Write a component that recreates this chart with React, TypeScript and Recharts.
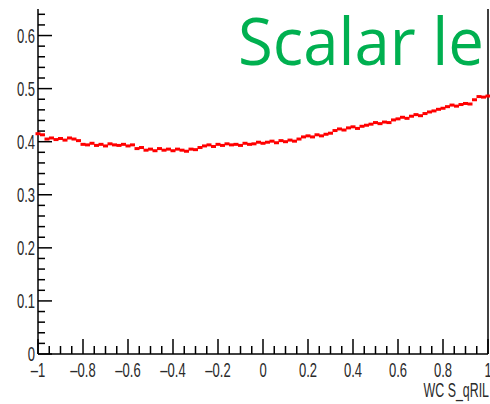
import React from "react";
import {
  ComposedChart,
  Scatter,
  XAxis,
  YAxis,
  ReferenceLine,
} from "recharts";

// scan points along WC S_qRIL, step 0.02 from -1 to 1
const scanX = [
  -1, -0.98, -0.96, -0.94, -0.92, -0.9, -0.88, -0.86, -0.84, -0.82,
  -0.8, -0.78, -0.76, -0.74, -0.72, -0.7, -0.68, -0.66, -0.64, -0.62,
  -0.6, -0.58, -0.56, -0.54, -0.52, -0.5, -0.48, -0.46, -0.44, -0.42,
  -0.4, -0.38, -0.36, -0.34, -0.32, -0.3, -0.28, -0.26, -0.24, -0.22,
  -0.2, -0.18, -0.16, -0.14, -0.12, -0.1, -0.08, -0.06, -0.04, -0.02,
  0, 0.02, 0.04, 0.06, 0.08, 0.1, 0.12, 0.14, 0.16, 0.18,
  0.2, 0.22, 0.24, 0.26, 0.28, 0.3, 0.32, 0.34, 0.36, 0.38,
  0.4, 0.42, 0.44, 0.46, 0.48, 0.5, 0.52, 0.54, 0.56, 0.58,
  0.6, 0.62, 0.64, 0.66, 0.68, 0.7, 0.72, 0.74, 0.76, 0.78,
  0.8, 0.82, 0.84, 0.86, 0.88, 0.9, 0.92, 0.94, 0.96, 0.98,
  1,
];

const scanY = [
  0.415, 0.413, 0.405, 0.407, 0.404, 0.406, 0.403, 0.407, 0.405, 0.402,
  0.395, 0.394, 0.397, 0.393, 0.395, 0.392, 0.396, 0.394, 0.393, 0.395,
  0.392, 0.394, 0.387, 0.389, 0.384, 0.386, 0.383, 0.387, 0.384, 0.386,
  0.383, 0.386, 0.384, 0.382, 0.386, 0.385, 0.389, 0.392, 0.394, 0.391,
  0.395, 0.393, 0.396, 0.394, 0.395, 0.393, 0.397, 0.395, 0.396, 0.399,
  0.397, 0.399, 0.401, 0.398, 0.402, 0.4, 0.403, 0.401, 0.405, 0.409,
  0.411, 0.409, 0.413, 0.411, 0.414, 0.416, 0.421, 0.424, 0.422, 0.426,
  0.428, 0.425, 0.429, 0.431, 0.433, 0.436, 0.434, 0.437, 0.436, 0.441,
  0.443, 0.446, 0.444, 0.448, 0.451, 0.449, 0.453, 0.456, 0.458, 0.461,
  0.463, 0.466, 0.469, 0.467, 0.47, 0.472, 0.471, 0.479, 0.485, 0.484,
  0.486,
];

const xMajor = [-1, -0.8, -0.6, -0.4, -0.2, 0, 0.2, 0.4, 0.6, 0.8, 1];
const xMajorLabels = ["-1", "-0.8", "-0.6", "-0.4", "-0.2", "0", "0.2", "0.4", "0.6", "0.8", "1"];
const yMajor = [0, 0.1, 0.2, 0.3, 0.4, 0.5, 0.6];
const yMajorLabels = ["0", "0.1", "0.2", "0.3", "0.4", "0.5", "0.6"];

const data = scanX.map((x, i) => ({ x, y: scanY[i] }));

const round = (v: number) => Math.round(v * 1000) / 1000;

// minor ticks: 4 between x majors, 5 between y majors
const xTicks: number[] = [];
for (let i = 0; i < xMajor.length - 1; i++) {
  for (let k = 0; k < 4; k++) xTicks.push(round(xMajor[i] + k * 0.05));
}
xTicks.push(1);
const yTicks: number[] = [];
for (let i = 0; i < yMajor.length; i++) {
  for (let k = 0; k < 5; k++) {
    const v = round(yMajor[i] + k * 0.02);
    if (v <= 0.65) yTicks.push(v);
  }
}

const FONT = "'Liberation Sans', Arial, sans-serif";
const SQUEEZE = 0.62;

const XTick = (props: any) => {
  const { x, y, payload } = props;
  const idx = xMajor.findIndex((m) => Math.abs(m - payload.value) < 1e-6);
  const major = idx >= 0;
  return (
    <g>
      <line x1={x} x2={x} y1={y} y2={y - (major ? 15 : 8)} stroke="#000" strokeWidth={1.5} />
      {major && (
        <text
          transform={`translate(${x},${y + 23}) scale(${SQUEEZE},1)`}
          textAnchor="middle"
          fontFamily={FONT}
          fontSize={21}
          fill="#2a2a2a"
        >
          {xMajorLabels[idx].replace("-", "\u2013")}
        </text>
      )}
    </g>
  );
};

const YTick = (props: any) => {
  const { x, y, payload } = props;
  const idx = yMajor.findIndex((m) => Math.abs(m - payload.value) < 1e-6);
  const major = idx >= 0;
  return (
    <g>
      <line x1={x} x2={x + (major ? 14 : 7)} y1={y} y2={y} stroke="#000" strokeWidth={1.5} />
      {major && (
        <text
          transform={`translate(${x - 3},${y + 7}) scale(${SQUEEZE},1)`}
          textAnchor="end"
          fontFamily={FONT}
          fontSize={21}
          fill="#2a2a2a"
        >
          {yMajorLabels[idx]}
        </text>
      )}
    </g>
  );
};

const Dash = (props: any) => {
  const { cx, cy } = props;
  return <rect x={cx - 2.5} y={cy - 1.5} width={5} height={3} fill="#ff0000" />;
};

export default function App() {
  return (
    <div style={{ position: "absolute", left: 0, top: 0, width: 490, height: 404, background: "#fff" }}>
      <ComposedChart
        width={490}
        height={404}
        data={data}
        margin={{ top: 9, right: 2, bottom: 0, left: 0 }}
      >
        <XAxis
          dataKey="x"
          type="number"
          domain={[-1, 1]}
          ticks={xTicks}
          interval={0}
          tickSize={0}
          tickMargin={0}
          tickLine={false}
          tick={<XTick />}
          height={50}
          axisLine={{ stroke: "#000", strokeWidth: 1.5 }}
        />
        <YAxis
          dataKey="y"
          type="number"
          domain={[0, 0.65]}
          ticks={yTicks}
          interval={0}
          tickSize={0}
          tickMargin={0}
          tickLine={false}
          tick={<YTick />}
          width={38}
          axisLine={{ stroke: "#000", strokeWidth: 1.5 }}
        />
        <ReferenceLine x={1} stroke="#000" strokeWidth={1.5} />
        <Scatter dataKey="y" shape={<Dash />} isAnimationActive={false} />
      </ComposedChart>
      <svg
        width={490}
        height={404}
        style={{ position: "absolute", left: 0, top: 0, pointerEvents: "none" }}
      >
        <text
          x={238}
          y={65}
          fontFamily="'Open Sans', 'Noto Sans', sans-serif"
          fontSize={65}
          fill="#00b050"
          textLength={246}
          lengthAdjust="spacingAndGlyphs"
        >
          Scalar le
        </text>
        <text
          transform={`translate(489,397) scale(${SQUEEZE},1)`}
          textAnchor="end"
          fontFamily={FONT}
          fontSize={20}
          fill="#2a2a2a"
        >
          WC S_qRIL
        </text>
      </svg>
    </div>
  );
}
